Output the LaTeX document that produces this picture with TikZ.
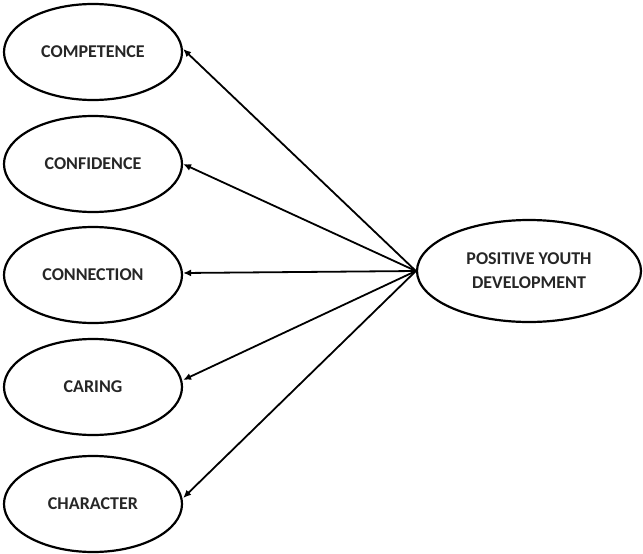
\documentclass[tikz,border=0pt]{standalone}
\usepackage{fontspec}
\setmainfont{Carlito}
\usetikzlibrary{shapes.geometric,arrows.meta}
\begin{document}
\begin{tikzpicture}[x=1pt,y=-1pt,
  oval/.style={ellipse,draw,line width=2.2pt,minimum width=178pt,minimum height=96pt,inner sep=0pt,font=\bfseries\fontsize{18}{24}\selectfont,align=center,text=black!85},
  link/.style={line width=1.8pt,-{Latex[length=8pt,width=7pt]}}]
\useasboundingbox (0,0) rectangle (643,554);
\node[oval] (comp) at (93,52) {COMPETENCE};
\node[oval] (conf) at (93,164) {CONFIDENCE};
\node[oval] (conn) at (93,275) {CONNECTION};
\node[oval] (car) at (93,387) {CARING};
\node[oval] (char) at (93,504) {CHARACTER};
\node[oval,minimum width=224pt,minimum height=102pt] (pyd) at (529,271) {POSITIVE YOUTH\\DEVELOPMENT};
\draw[link] (pyd.west) -- ([yshift=3pt]comp.east);
\draw[link] (pyd.west) -- ([yshift=0pt]conf.east);
\draw[link] (pyd.west) -- ([yshift=2pt]conn.east);
\draw[link] (pyd.west) -- ([yshift=7pt]car.east);
\draw[link] (pyd.west) -- ([yshift=6pt]char.east);
\end{tikzpicture}
\end{document}
